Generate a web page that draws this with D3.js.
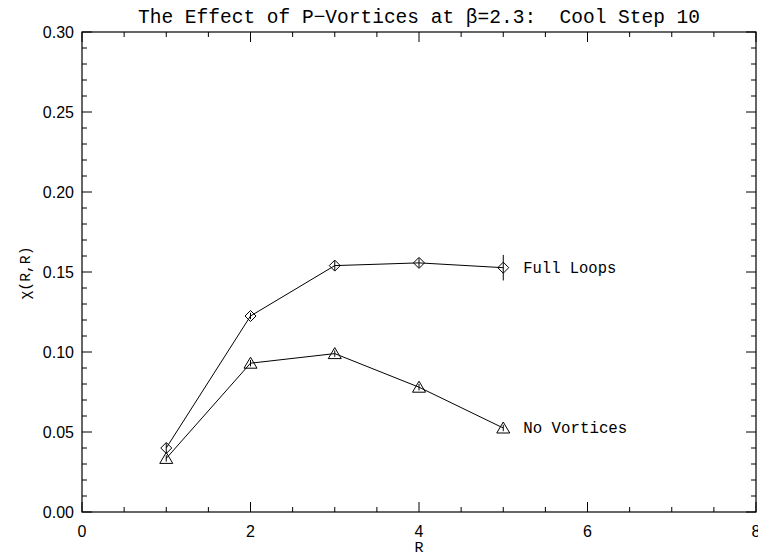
<!DOCTYPE html>
<html><head><meta charset="utf-8">
<script src="https://cdn.jsdelivr.net/npm/d3@7"></script>
<style>body{margin:0;background:#fff} text{white-space:pre}</style>
</head><body>
<svg id="c" width="758" height="557"></svg>
<script>
const rValues = [1, 2, 3, 4, 5];
const fullLoops = [0.040, 0.1225, 0.154, 0.1557, 0.1527];
const fullLoopsErr = [0.003, 0.002, 0.003, 0.003, 0.008];
const noVortices = [0.0335, 0.093, 0.099, 0.078, 0.0525];
const noVorticesErr = [0.002, 0.002, 0.002, 0.002, 0.002];
const xTicks = [0, 2, 4, 6, 8];
const yTicks = [0.00, 0.05, 0.10, 0.15, 0.20, 0.25, 0.30];
const seriesNames = ["Full Loops", "No Vortices"];
const titleText = "The Effect of P\u2212Vortices at \u03B2=2.3:  Cool Step 10";

const svg = d3.select("#c");
const L = 82, R = 756, T = 32, B = 512;
const x = d3.scaleLinear().domain([0, 8]).range([L, R]);
const y = d3.scaleLinear().domain([0, 0.30]).range([B, T]);

const serif = "'Liberation Mono', 'DejaVu Sans Mono', monospace";
const sans = "'Liberation Sans', 'DejaVu Sans', sans-serif";

// frame
svg.append("rect").attr("x", L).attr("y", T).attr("width", R - L).attr("height", B - T)
  .attr("fill", "none").attr("stroke", "#000").attr("stroke-width", 1.2);

// x ticks
const xMinor = d3.range(0, 8.001, 0.5);
xMinor.forEach(v => {
  const major = Math.abs(v / 2 - Math.round(v / 2)) < 1e-6;
  const len = major ? 10 : 5;
  svg.append("line").attr("x1", x(v)).attr("x2", x(v)).attr("y1", B).attr("y2", B - len).attr("stroke", "#000");
  svg.append("line").attr("x1", x(v)).attr("x2", x(v)).attr("y1", T).attr("y2", T + len).attr("stroke", "#000");
});
xTicks.forEach(v => {
  svg.append("text").attr("x", x(v)).attr("y", 537).attr("text-anchor", "middle")
    .attr("font-family", sans).attr("font-size", 16).text(String(v));
});
// y ticks
const yMinor = d3.range(0, 0.3001, 0.01);
yMinor.forEach((v, i) => {
  const major = i % 5 === 0;
  const len = major ? 10 : 5;
  svg.append("line").attr("y1", y(v)).attr("y2", y(v)).attr("x1", L).attr("x2", L + len).attr("stroke", "#000");
  svg.append("line").attr("y1", y(v)).attr("y2", y(v)).attr("x1", R).attr("x2", R - len).attr("stroke", "#000");
});
yTicks.forEach(v => {
  svg.append("text").attr("x", 74).attr("y", y(v) + 6).attr("text-anchor", "end")
    .attr("font-family", sans).attr("font-size", 16).text(v.toFixed(2));
});

// axis titles
svg.append("text").attr("x", (L + R) / 2).attr("y", 552).attr("text-anchor", "middle")
  .attr("font-family", serif).attr("font-size", 15).text("R");
svg.append("text").attr("transform", `translate(30,${(T + B) / 2 + 1}) rotate(-90)`).attr("text-anchor", "middle")
  .attr("font-family", serif).attr("font-size", 15)
  .attr("textLength", 53).attr("lengthAdjust", "spacingAndGlyphs").text("\u03C7(R,R)");

// title
svg.append("text").attr("x", (L + R) / 2).attr("y", 23).attr("text-anchor", "middle")
  .attr("font-family", serif).attr("font-size", 20)
  .attr("textLength", 562).attr("lengthAdjust", "spacingAndGlyphs").text(titleText);

const line = d3.line().x(d => x(d[0])).y(d => y(d[1]));

function drawSeries(vals, errs, marker, name, w) {
  const pts = rValues.map((r, i) => [r, vals[i]]);
  svg.append("path").attr("d", line(pts)).attr("fill", "none").attr("stroke", "#000").attr("stroke-width", 1);
  pts.forEach((p, i) => {
    const cx = x(p[0]), cy = y(p[1]);
    svg.append("line").attr("x1", cx).attr("x2", cx).attr("y1", y(p[1] - errs[i])).attr("y2", y(p[1] + errs[i]))
      .attr("stroke", "#000").attr("stroke-width", 1);
    if (marker === "diamond") {
      svg.append("path").attr("d", `M${cx},${cy - 5.5}L${cx + 5.5},${cy}L${cx},${cy + 5.5}L${cx - 5.5},${cy}Z`)
        .attr("fill", "none").attr("stroke", "#000").attr("stroke-width", 1);
    } else {
      svg.append("path").attr("d", `M${cx},${cy - 6}L${cx + 6.5},${cy + 5}L${cx - 6.5},${cy + 5}Z`)
        .attr("fill", "none").attr("stroke", "#000").attr("stroke-width", 1);
    }
  });
  const last = pts[pts.length - 1];
  svg.append("text").attr("x", x(last[0]) + 20).attr("y", y(last[1]) + 5)
    .attr("font-family", serif).attr("font-size", 16)
    .attr("textLength", w).attr("lengthAdjust", "spacingAndGlyphs").text(name);
}
drawSeries(fullLoops, fullLoopsErr, "diamond", seriesNames[0], 93);
drawSeries(noVortices, noVorticesErr, "triangle", seriesNames[1], 104);
</script>
</body></html>
